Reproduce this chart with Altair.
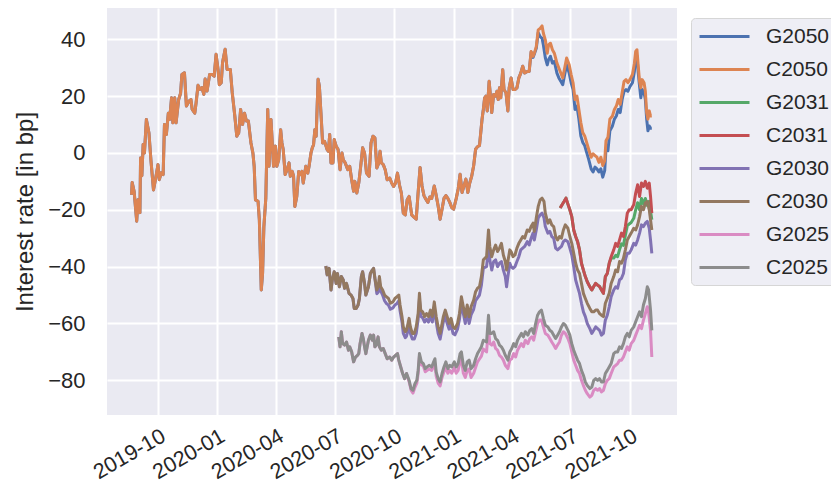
import altair as alt
import pandas as pd

BASE_DATE = "2019-10-01"  # day offsets in the tables are counted from this date

SERIES = ["G2050", "C2050", "G2031", "C2031", "G2030", "C2030", "G2025", "C2025"]
COLORS = ["#4C72B0", "#DD8452", "#55A868", "#C44E52", "#8172B3", "#937860", "#DA8BC3", "#8C8C8C"]

# (day offset, C value, G value) in bp
BOND_2050 = [
    (-41, -14.7, -14.7), (-40, -10.4, -10.4), (-37, -13.5, -13.5), (-33, -24.0, -24.0), (-31, -16.5, -16.5),
    (-28, -21.0, -21.0), (-27, -1.8, -1.8), (-25, -8.0, -8.0), (-23, 3.0, 3.0), (-21, 0.0, 0.0),
    (-18, 11.8, 11.8), (-14, 7.0, 7.0), (-11, -2.4, -2.4), (-7, -13.0, -13.0), (-4, -9.4, -9.4),
    (0, -4.1, -4.1), (2, -9.4, -9.4), (5, -7.0, -7.0), (8, -7.6, -7.6), (10, 10.0, 10.0),
    (13, 6.5, 6.5), (16, 14.0, 14.0), (18, 11.8, 11.8), (21, 19.4, 19.4), (23, 10.6, 10.6),
    (26, 19.4, 19.4), (28, 10.6, 10.6), (32, 18.8, 18.8), (35, 21.0, 21.0), (37, 27.6, 27.6),
    (41, 28.2, 28.2), (44, 16.5, 16.5), (48, 18.2, 18.2), (51, 18.8, 18.8), (53, 15.3, 15.3),
    (57, 14.0, 14.0), (59, 17.6, 17.6), (62, 23.8, 23.8), (65, 22.4, 22.4), (68, 23.0, 23.0),
    (71, 20.6, 20.6), (73, 26.0, 26.0), (76, 21.8, 21.8), (80, 27.6, 27.6), (84, 27.6, 27.6),
    (87, 27.0, 27.0), (90, 34.7, 34.7), (93, 29.4, 29.4), (95, 24.0, 24.0), (98, 24.7, 24.7),
    (100, 31.8, 31.8), (104, 36.5, 36.5), (107, 29.4, 29.4), (112, 29.4, 29.4), (115, 21.2, 21.2),
    (119, 13.0, 13.0), (122, 5.9, 5.9), (125, 7.0, 7.0), (128, 15.3, 15.3), (131, 10.0, 10.0),
    (134, 14.0, 14.0), (137, 11.2, 11.2), (140, 11.2, 11.2), (144, 3.5, 3.5), (147, 0.0, 0.0),
    (149, -4.7, -4.7), (151, -16.5, -16.5), (155, -17.0, -17.0), (157, -23.5, -23.5), (160, -48.2, -48.2),
    (162, -42.4, -42.4), (164, -26.0, -26.0), (167, -16.0, -16.0), (170, 15.3, 15.3), (172, -4.7, -4.7),
    (175, 11.8, 11.8), (179, -4.7, -4.7), (182, 2.4, 2.4), (184, -4.7, -4.7), (187, -2.4, -2.4),
    (190, 8.2, 8.2), (192, 3.5, 3.5), (194, 1.2, 1.2), (197, -7.6, -7.6), (200, -5.9, -5.9),
    (203, -3.5, -3.5), (205, -8.2, -8.2), (208, -6.5, -6.5), (210, -8.2, -8.2), (212, -18.8, -18.8),
    (215, -15.3, -15.3), (218, -6.5, -6.5), (221, -7.6, -7.6), (223, -6.5, -6.5), (225, -10.6, -10.6),
    (229, -4.7, -4.7), (232, -7.1, -7.1), (234, -4.7, -4.7), (237, 0.0, 0.0), (239, 1.8, 1.8),
    (241, 2.9, 2.9), (243, 8.2, 8.2), (245, 5.9, 5.9), (248, 25.9, 25.9), (250, 23.5, 23.5),
    (253, 11.8, 11.8), (255, 3.5, 3.5), (258, 4.1, 4.1), (262, 1.2, 1.2), (264, 0.6, 0.6),
    (266, 6.5, 6.5), (268, -3.5, -3.5), (271, -3.5, -3.5), (273, 4.7, 4.7), (276, 2.4, 2.4),
    (279, 1.2, 1.2), (282, -5.9, -5.9), (285, 0.0, 0.0), (287, -2.4, -2.4), (290, -3.5, -3.5),
    (294, -5.9, -5.9), (297, -4.7, -4.7), (300, -9.4, -9.4), (303, -13.5, -13.5), (305, -10.0, -10.0),
    (308, -14.1, -14.1), (311, -10.6, -10.6), (314, -4.7, -4.7), (317, 1.8, 1.8), (320, 0.0, 0.0),
    (323, -7.1, -7.1), (327, -8.2, -8.2), (330, 3.5, 3.5), (333, 5.9, 5.9), (336, 5.3, 5.3),
    (339, -5.3, -5.3), (342, -3.5, -3.5), (344, 0.6, 0.6), (346, -3.5, -3.5), (349, -4.1, -4.1),
    (352, -5.9, -5.9), (355, -9.4, -9.4), (359, -8.8, -8.8), (362, -10.6, -10.6), (365, -11.8, -11.8),
    (368, -10.6, -10.6), (371, -7.1, -7.1), (374, -11.2, -11.2), (377, -14.1, -14.1), (380, -21.2, -21.2),
    (383, -21.8, -21.8), (386, -16.5, -16.5), (389, -15.3, -15.3), (393, -21.8, -21.8), (397, -22.7, -22.7),
    (400, -23.3, -23.3), (403, -13.9, -13.9), (406, -5.1, -5.1), (409, -11.6, -11.6), (412, -15.0, -15.0),
    (415, -16.3, -16.3), (418, -17.4, -17.4), (421, -15.5, -15.5), (424, -16.0, -16.0), (428, -11.6, -11.6),
    (431, -15.0, -15.0), (434, -18.7, -18.7), (437, -23.3, -23.3), (440, -19.8, -19.8), (443, -16.0, -16.0),
    (446, -15.0, -15.0), (449, -16.0, -16.0), (452, -17.4, -17.4), (455, -19.2, -19.2), (458, -19.8, -19.8),
    (462, -16.0, -16.0), (465, -12.7, -12.7), (468, -7.5, -7.5), (471, -13.9, -13.9), (474, -11.6, -11.6),
    (477, -9.2, -9.2), (480, -13.9, -13.9), (483, -10.5, -10.5), (486, -8.1, -8.1), (489, -4.5, -4.5),
    (492, 1.3, 1.3), (495, 2.2, 2.2), (498, 2.6, 2.6), (500, 7.2, 7.2), (502, 11.9, 11.9),
    (504, 15.3, 15.3), (506, 19.4, 19.4), (508, 20.0, 20.0), (510, 14.8, 14.8), (513, 25.2, 25.2),
    (515, 20.0, 20.0), (517, 14.2, 14.2), (520, 20.6, 20.6), (523, 20.0, 20.0), (525, 21.7, 21.7),
    (527, 18.8, 18.8), (529, 22.9, 22.9), (531, 19.4, 19.4), (534, 29.3, 29.3), (536, 22.3, 22.3),
    (539, 21.2, 21.2), (542, 14.8, 14.8), (544, 22.9, 22.9), (547, 26.4, 26.4), (550, 22.3, 22.3),
    (553, 22.3, 22.3), (556, 22.9, 22.9), (559, 26.4, 26.4), (562, 28.1, 28.1), (565, 30.5, 30.5),
    (568, 28.1, 28.1), (572, 28.7, 28.7), (575, 28.7, 28.7), (578, 35.7, 35.5), (581, 34.0, 33.6),
    (583, 35.1, 34.8), (586, 37.4, 36.8), (589, 43.3, 42.3), (592, 43.8, 40.9), (595, 44.7, 40.3),
    (597, 42.1, 38.0), (600, 39.8, 33.5), (603, 35.1, 31.0), (605, 38.0, 32.8), (608, 38.6, 34.0),
    (611, 36.3, 31.6), (614, 35.1, 32.2), (618, 31.6, 28.1), (621, 29.9, 26.4), (624, 28.1, 25.2),
    (627, 26.4, 24.0), (630, 29.9, 27.6), (633, 33.4, 31.0), (637, 31.0, 28.1), (640, 27.6, 24.7),
    (643, 24.7, 22.3), (646, 18.8, 15.3), (649, 20.0, 16.5), (652, 15.3, 11.9), (655, 10.7, 6.0),
    (658, 7.2, 3.7), (661, 6.0, 2.6), (664, 3.7, 0.2), (667, 1.4, -2.1), (671, -1.5, -5.6),
    (674, -0.3, -6.7), (677, -0.9, -5.0), (680, -1.5, -5.6), (683, -3.3, -6.7), (686, -1.5, -5.6),
    (689, -4.4, -8.5), (692, -2.7, -6.2), (694, 4.3, 1.4), (697, 5.5, 0.8), (700, 11.9, 7.8),
    (704, 13.0, 9.5), (707, 15.3, 11.9), (710, 16.5, 13.0), (713, 18.8, 15.3), (716, 17.1, 14.2),
    (719, 21.2, 18.8), (722, 25.2, 21.7), (725, 25.8, 22.3), (728, 24.7, 21.7), (731, 25.8, 23.3),
    (735, 27.6, 24.7), (738, 31.6, 28.7), (740, 35.7, 34.0), (742, 36.3, 34.0), (744, 30.5, 28.1),
    (746, 25.2, 23.5), (748, 22.9, 19.4), (750, 25.8, 22.3), (753, 24.7, 21.2), (755, 21.7, 18.8),
    (757, 14.2, 11.9), (759, 11.9, 7.8), (761, 14.8, 9.5), (763, 13.0, 8.7), (765, 13.0, 8.7),
]

BOND_2031 = [
    (623, -19.4, -19.4), (626, -18.2, -18.2), (629, -17.1, -17.1), (632, -15.9, -15.9), (635, -18.0, -18.0),
    (638, -20.0, -20.0), (641, -22.4, -22.4), (644, -27.1, -27.1), (647, -29.4, -29.4), (650, -31.2, -31.2),
    (653, -34.1, -34.1), (656, -38.8, -38.8), (659, -41.2, -41.2), (662, -43.5, -43.5), (665, -45.3, -45.3),
    (669, -47.1, -47.1), (672, -48.2, -48.2), (675, -47.0, -47.0), (678, -45.9, -45.9), (681, -46.5, -46.5),
    (684, -47.0, -47.0), (687, -48.2, -48.2), (690, -49.4, -49.4), (693, -43.5, -43.5), (696, -42.4, -42.4),
    (699, -38.8, -38.8), (702, -36.5, -37.0), (706, -34.1, -37.0), (709, -31.8, -36.0), (712, -32.9, -36.5),
    (715, -30.6, -34.0), (718, -28.2, -32.0), (721, -29.4, -32.5), (724, -25.9, -29.0), (727, -21.2, -25.5),
    (730, -20.0, -25.0), (733, -20.0, -24.5), (737, -18.2, -23.0), (740, -14.1, -20.0), (743, -11.2, -17.5),
    (746, -15.3, -20.0), (749, -10.6, -16.0), (752, -11.8, -18.0), (755, -10.0, -16.0), (758, -12.4, -18.5),
    (761, -10.6, -17.0), (763, -15.3, -20.5), (765, -21.2, -23.5),
]

BOND_2030 = [
    (260, -39.8, -39.8), (262, -42.9, -42.9), (265, -40.6, -40.6), (268, -48.2, -48.2), (270, -44.7, -44.7),
    (273, -41.8, -41.8), (276, -45.9, -45.9), (278, -42.4, -42.4), (281, -47.1, -47.1), (284, -43.5, -43.5),
    (287, -44.7, -44.7), (289, -47.6, -47.6), (292, -45.9, -45.9), (296, -49.4, -49.4), (299, -50.0, -50.0),
    (302, -51.2, -51.2), (304, -54.7, -54.7), (307, -54.7, -54.7), (310, -53.5, -53.5), (312, -51.2, -51.2),
    (315, -43.5, -43.5), (317, -41.8, -41.8), (320, -45.9, -45.9), (322, -50.0, -50.0), (326, -47.1, -47.1),
    (329, -42.4, -42.4), (332, -41.2, -41.2), (334, -40.6, -40.6), (336, -44.1, -44.1), (339, -48.2, -49.5),
    (341, -47.1, -49.0), (343, -43.5, -45.5), (345, -47.1, -48.5), (348, -48.2, -50.0), (351, -50.0, -52.0),
    (354, -50.6, -53.0), (357, -51.2, -53.5), (360, -52.9, -55.0), (364, -52.4, -54.5), (367, -51.2, -53.5),
    (370, -50.6, -53.0), (373, -50.0, -52.0), (375, -53.5, -55.5), (378, -57.6, -59.5), (380, -61.2, -63.5),
    (383, -62.9, -65.0), (385, -62.4, -64.5), (389, -58.2, -60.5), (391, -61.2, -63.5), (394, -63.5, -65.5),
    (397, -63.5, -65.5), (400, -61.2, -63.5), (403, -56.5, -58.5), (405, -49.4, -51.5), (407, -55.3, -57.5),
    (410, -55.9, -58.0), (413, -57.6, -59.5), (416, -56.5, -58.5), (419, -57.6, -59.5), (422, -55.3, -57.5),
    (425, -57.6, -59.5), (428, -52.4, -54.5), (431, -57.6, -59.5), (434, -61.2, -63.5), (437, -63.5, -65.5),
    (440, -60.0, -62.0), (442, -57.6, -59.5), (445, -55.3, -57.5), (448, -57.6, -60.0), (451, -60.0, -62.0),
    (454, -58.2, -60.5), (457, -61.2, -63.5), (460, -61.8, -64.0), (464, -60.0, -62.0), (467, -56.5, -58.5),
    (470, -50.6, -53.0), (473, -54.1, -56.5), (476, -57.6, -60.0), (479, -53.5, -56.0), (482, -57.6, -60.0),
    (485, -54.1, -57.0), (489, -51.8, -55.0), (492, -48.8, -52.0), (495, -47.6, -51.0), (498, -47.1, -50.0),
    (501, -43.5, -46.5), (504, -37.6, -40.5), (509, -36.5, -40.0), (512, -27.1, -33.5), (514, -32.9, -37.6),
    (517, -36.5, -41.2), (520, -34.1, -38.2), (523, -32.4, -37.6), (526, -34.7, -40.0), (529, -33.5, -38.8),
    (532, -31.8, -38.2), (535, -35.9, -41.2), (538, -38.2, -43.5), (540, -41.2, -47.1), (542, -38.2, -43.5),
    (545, -34.1, -38.8), (547, -34.7, -40.0), (550, -36.5, -40.6), (553, -35.9, -40.0), (556, -33.5, -38.2),
    (559, -31.8, -36.5), (562, -30.6, -34.1), (565, -29.4, -33.5), (568, -30.0, -32.9), (572, -27.1, -31.2),
    (575, -27.6, -32.4), (578, -25.9, -30.0), (581, -24.7, -28.2), (583, -27.6, -30.6), (586, -22.9, -27.1),
    (589, -18.8, -22.9), (592, -16.5, -21.8), (595, -15.9, -21.2), (598, -17.1, -22.9), (600, -21.2, -25.9),
    (604, -24.7, -28.2), (607, -23.5, -27.6), (610, -25.3, -29.4), (613, -25.9, -30.0), (616, -29.4, -33.5),
    (619, -30.6, -34.1), (622, -29.4, -33.5), (625, -30.0, -32.9), (628, -27.1, -31.2), (631, -25.3, -30.6),
    (635, -26.5, -31.2), (638, -29.4, -33.5), (641, -31.8, -35.9), (644, -35.3, -40.0), (647, -38.8, -44.7),
    (650, -41.2, -47.1), (653, -42.4, -49.4), (656, -45.9, -52.9), (659, -49.4, -55.9), (662, -51.2, -57.6),
    (665, -52.9, -60.0), (669, -54.7, -61.8), (672, -55.9, -63.5), (675, -55.9, -62.4), (678, -55.3, -61.2),
    (681, -55.3, -61.8), (684, -56.5, -62.4), (687, -57.1, -64.1), (690, -57.6, -63.5), (693, -52.9, -58.8),
    (696, -51.2, -57.1), (699, -49.4, -54.1), (702, -45.9, -50.6), (706, -43.5, -48.2), (709, -41.2, -47.1),
    (712, -41.8, -47.6), (715, -38.2, -44.7), (718, -38.8, -44.1), (721, -37.1, -42.4), (724, -34.1, -37.6),
    (727, -30.6, -35.3), (730, -29.4, -35.3), (733, -28.2, -34.1), (737, -26.5, -31.8), (740, -27.1, -32.4),
    (743, -25.3, -30.6), (746, -22.4, -28.2), (749, -18.8, -25.3), (752, -20.0, -25.9), (755, -17.6, -24.7),
    (758, -17.1, -24.1), (761, -20.0, -26.5), (763, -23.5, -30.6), (765, -27.1, -35.3),
]

BOND_2025 = [
    (280, -64.7, -64.7), (282, -68.2, -68.2), (284, -62.9, -62.9), (286, -67.1, -67.1), (289, -67.6, -67.6),
    (292, -66.5, -66.5), (295, -69.4, -69.4), (297, -68.2, -68.2), (300, -70.0, -70.0), (303, -73.5, -73.5),
    (306, -71.8, -71.8), (309, -71.2, -71.2), (311, -70.6, -70.6), (313, -67.1, -67.1), (316, -63.5, -63.5),
    (318, -65.3, -65.3), (320, -68.2, -68.2), (322, -70.6, -70.6), (326, -65.9, -65.9), (329, -64.1, -64.1),
    (332, -65.9, -65.9), (334, -64.1, -64.1), (336, -68.2, -68.2), (338, -67.6, -67.6), (341, -64.7, -64.7),
    (343, -68.2, -68.2), (346, -69.4, -69.4), (349, -68.8, -68.8), (352, -70.6, -70.6), (355, -72.4, -72.4),
    (359, -71.8, -71.8), (362, -72.9, -72.9), (365, -71.8, -71.8), (368, -71.2, -71.2), (371, -70.6, -70.6),
    (373, -72.9, -72.9), (376, -75.3, -75.3), (379, -77.6, -77.6), (382, -79.4, -79.4), (385, -77.6, -77.6),
    (389, -80.0, -80.5), (392, -82.9, -83.5), (395, -83.5, -84.5), (398, -81.2, -82.5), (401, -80.0, -81.0),
    (403, -76.5, -77.5), (405, -70.6, -71.5), (408, -73.5, -74.5), (411, -74.1, -75.0), (414, -75.9, -77.0),
    (417, -75.3, -76.5), (420, -74.7, -76.0), (424, -75.3, -76.5), (427, -73.5, -75.0), (429, -72.4, -74.0),
    (431, -77.1, -78.5), (434, -79.4, -81.0), (437, -80.6, -82.0), (440, -77.6, -79.0), (443, -75.3, -77.0),
    (446, -73.5, -75.5), (449, -75.9, -77.5), (452, -74.7, -76.5), (455, -75.3, -77.5), (459, -73.5, -75.5),
    (462, -75.3, -77.5), (465, -74.1, -76.5), (468, -70.6, -73.0), (470, -70.0, -72.5), (473, -74.7, -77.5),
    (476, -76.5, -79.0), (479, -73.5, -76.5), (482, -72.9, -76.0), (485, -75.9, -79.0), (489, -74.7, -77.5),
    (492, -72.4, -75.5), (495, -70.6, -73.5), (498, -69.4, -72.5), (501, -68.2, -71.5), (504, -65.9, -69.0),
    (509, -66.5, -70.0), (512, -57.1, -61.2), (514, -63.5, -67.1), (517, -63.5, -67.6), (520, -62.9, -66.5),
    (523, -65.3, -68.8), (526, -65.9, -69.4), (529, -67.6, -71.2), (532, -68.2, -71.8), (535, -69.4, -72.9),
    (538, -71.2, -74.7), (542, -72.9, -75.9), (545, -70.0, -72.9), (548, -68.8, -72.4), (551, -67.1, -70.6),
    (554, -68.2, -71.8), (557, -65.9, -69.4), (560, -64.7, -68.2), (563, -63.5, -67.1), (566, -64.7, -68.2),
    (569, -62.9, -65.9), (573, -64.1, -67.1), (576, -62.4, -65.3), (579, -61.8, -64.7), (582, -63.5, -65.9),
    (585, -60.0, -62.9), (588, -57.1, -60.0), (591, -55.9, -58.8), (594, -55.3, -58.8), (597, -58.2, -61.2),
    (600, -60.6, -63.5), (604, -61.2, -64.1), (607, -62.4, -65.3), (610, -62.9, -66.5), (613, -64.1, -67.6),
    (616, -65.3, -68.8), (619, -64.1, -67.6), (622, -62.9, -66.5), (625, -61.2, -64.1), (628, -60.0, -62.9),
    (631, -60.6, -63.5), (635, -62.4, -65.3), (638, -64.1, -67.1), (641, -67.1, -70.0), (644, -69.4, -72.9),
    (647, -71.2, -74.7), (650, -72.9, -76.5), (653, -74.1, -77.6), (656, -76.5, -80.0), (659, -78.2, -81.8),
    (662, -80.6, -83.5), (665, -81.8, -84.7), (669, -82.9, -85.9), (672, -82.4, -85.3), (675, -80.0, -83.5),
    (678, -79.4, -82.9), (681, -80.0, -83.5), (684, -79.4, -82.9), (687, -80.6, -84.1), (690, -80.6, -83.5),
    (693, -77.6, -81.2), (696, -76.5, -80.0), (699, -75.3, -79.4), (702, -74.1, -77.6), (706, -70.6, -75.3),
    (709, -70.0, -74.7), (712, -70.0, -74.1), (715, -68.2, -72.9), (718, -68.8, -72.9), (721, -67.1, -71.8),
    (724, -64.7, -70.0), (727, -63.5, -68.2), (730, -64.7, -69.4), (733, -62.4, -67.1), (737, -61.2, -65.9),
    (740, -59.4, -64.1), (743, -57.6, -62.4), (746, -55.9, -60.6), (749, -57.6, -61.8), (752, -53.5, -58.8),
    (755, -51.2, -56.5), (758, -47.1, -54.1), (760, -48.2, -55.9), (763, -55.3, -62.4), (765, -62.4, -71.8),
]

X_TICKS = ["2019-10-01", "2020-01-01", "2020-04-01", "2020-07-01", "2020-10-01",
           "2021-01-01", "2021-04-01", "2021-07-01", "2021-10-01"]
X_DOMAIN = ["2019-07-14", "2021-12-13"]
Y_TICKS = [-80, -60, -40, -20, 0, 20, 40]
Y_DOMAIN = [-92.2, 51.0]

# ---- build the long table ----
base = pd.Timestamp(BASE_DATE)
rows = []
for c_name, g_name, table in [("C2050", "G2050", BOND_2050), ("C2031", "G2031", BOND_2031),
                              ("C2030", "G2030", BOND_2030), ("C2025", "G2025", BOND_2025)]:
    for d, c, g in table:
        date = base + pd.Timedelta(days=d)
        rows.append({"date": date, "series": g_name, "value": g})
        rows.append({"date": date, "series": c_name, "value": c})
df = pd.DataFrame(rows)


def dt(s):
    y, m, d = (int(p) for p in s.split("-"))
    return alt.DateTime(year=y, month=m, date=d)


FONT = "Liberation Sans"
TXT = "#262626"

base_chart = alt.Chart(df).mark_line(strokeWidth=3, strokeJoin="round").encode(
    x=alt.X("date:T",
            scale=alt.Scale(domain=[dt(s) for s in X_DOMAIN]),
            axis=alt.Axis(values=[dt(s) for s in X_TICKS], format="%Y-%m", title=None,
                          labelAngle=-30, labelAlign="right", labelBaseline="top",
                          labelPadding=10, labelOffset=0, labelOverlap=False,
                          labelFontSize=21.5)),
    y=alt.Y("value:Q",
            scale=alt.Scale(domain=Y_DOMAIN, nice=False, zero=False),
            axis=alt.Axis(values=Y_TICKS, title="Interest rate [in bp]",
                          labelPadding=22, titlePadding=10)),
    color=alt.Color("series:N",
                    scale=alt.Scale(domain=SERIES, range=COLORS),
                    sort=SERIES,
                    legend=alt.Legend(title=None, orient="none", legendX=584, legendY=10,
                                      symbolType="M-1,0H4", symbolSize=400, symbolStrokeWidth=3,
                                      labelFontSize=21, labelFont=FONT, labelColor=TXT,
                                      labelOffset=45, rowPadding=11, padding=7,
                                      fillColor="#EEEEF5", strokeColor="#D6D6D6",
                                      cornerRadius=4, labelLimit=0)),
)

layers = [base_chart.transform_filter(alt.datum.series == s) for s in SERIES]

chart = alt.layer(*layers).properties(
    width=570,
    height=407,
    autosize=alt.AutoSizeParams(type="none"),
    padding={"left": 99, "top": 0, "right": 154, "bottom": 72},
    background="white",
).configure_view(
    fill="#EAEAF2", strokeWidth=0
).configure_axis(
    domain=False, ticks=False, grid=True, gridColor="white", gridWidth=2,
    labelFont=FONT, labelFontSize=22, labelColor=TXT,
    titleFont=FONT, titleFontSize=24, titleColor=TXT, titleFontWeight="normal",
)

chart.save("out.html", embed_options={"renderer": "svg", "actions": False})
